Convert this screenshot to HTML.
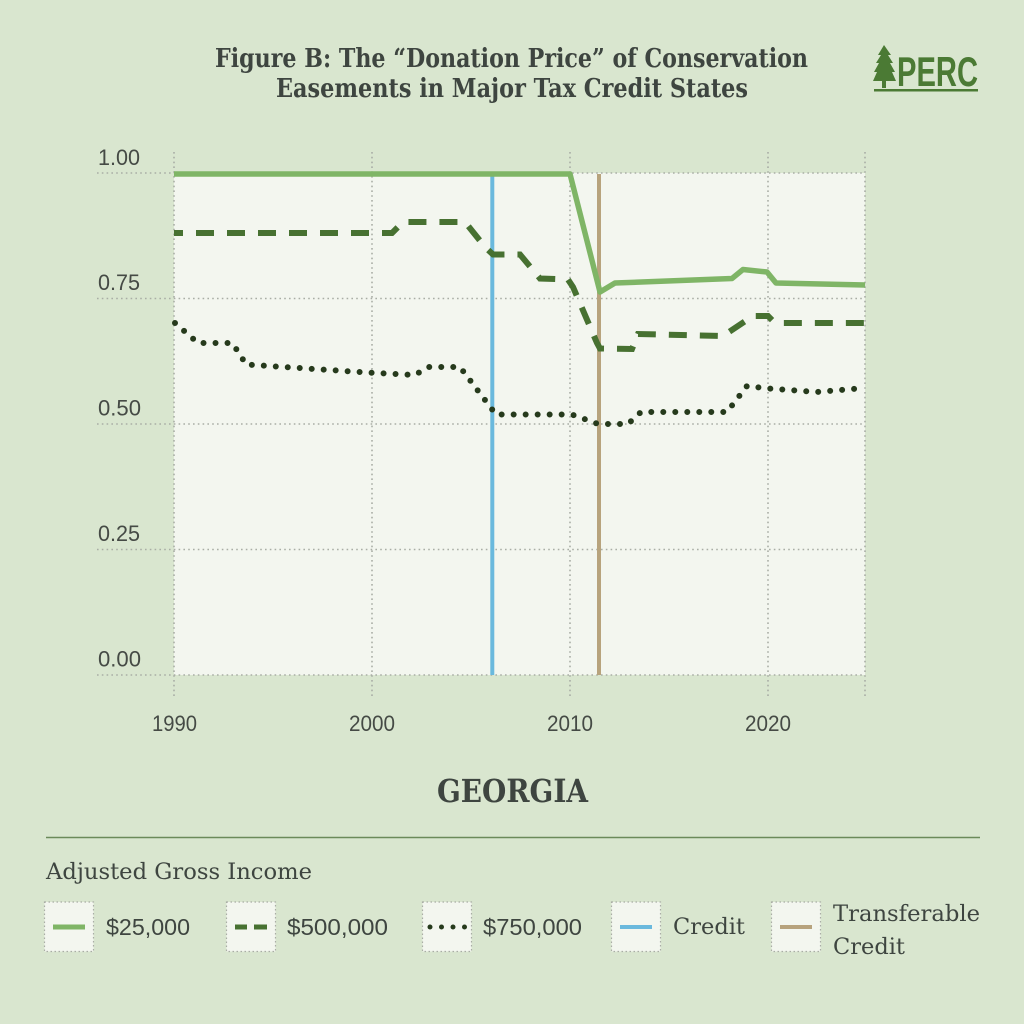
<!DOCTYPE html>
<html><head><meta charset="utf-8"><style>
html,body{margin:0;padding:0;background:#d9e6cf;}
svg{display:block;}
</style></head><body>
<svg width="1024" height="1024" viewBox="0 0 1024 1024" xmlns="http://www.w3.org/2000/svg">
<rect width="1024" height="1024" fill="#d9e6cf"/>
<!-- Title -->
<g font-family="'DejaVu Serif','Liberation Serif',serif" font-weight="bold" fill="#3e4540" font-size="26">
<text x="215" y="67" textLength="593" lengthAdjust="spacingAndGlyphs">Figure B: The “Donation Price” of Conservation</text>
<text x="276" y="97" textLength="472" lengthAdjust="spacingAndGlyphs">Easements in Major Tax Credit States</text>
</g>
<!-- Logo -->
<g fill="#4b7a34">
<polygon points="884,45 878,55 881,55 876,63 879,63 874,72 877,72 873,81 882,81 882,88 886,88 886,81 896,81 892,72 895,72 890,63 893,63 888,55 891,55"/>
<text x="897" y="86" font-family="'Liberation Sans',sans-serif" font-weight="bold" font-size="42" textLength="81" lengthAdjust="spacingAndGlyphs">PERC</text>
<rect x="874" y="89" width="104" height="2.5"/>
</g>
<!-- Plot bg -->
<rect x="174" y="173" width="691" height="502" fill="#f3f6ef"/>
<!-- Grid -->
<g stroke="#a9ada5" stroke-width="1.6" stroke-dasharray="1.6 3.2" fill="none">
<line x1="97" y1="173" x2="865" y2="173"/>
<line x1="97" y1="298.5" x2="865" y2="298.5"/>
<line x1="97" y1="424" x2="865" y2="424"/>
<line x1="97" y1="549.5" x2="865" y2="549.5"/>
<line x1="97" y1="675" x2="865" y2="675"/>
<line x1="174" y1="152" x2="174" y2="697"/>
<line x1="372" y1="152" x2="372" y2="697"/>
<line x1="570" y1="152" x2="570" y2="697"/>
<line x1="768" y1="152" x2="768" y2="697"/>
<line x1="865" y1="152" x2="865" y2="697"/>
</g>
<!-- Axis labels -->
<g font-family="'Liberation Sans',sans-serif" font-size="22.5" fill="#454a45">
<text x="98" y="165" textLength="42" lengthAdjust="spacingAndGlyphs">1.00</text>
<text x="98" y="290" textLength="42" lengthAdjust="spacingAndGlyphs">0.75</text>
<text x="98" y="415.5" textLength="43" lengthAdjust="spacingAndGlyphs">0.50</text>
<text x="98" y="541" textLength="42" lengthAdjust="spacingAndGlyphs">0.25</text>
<text x="98" y="666.5" textLength="43" lengthAdjust="spacingAndGlyphs">0.00</text>
<text x="152" y="731" textLength="45" lengthAdjust="spacingAndGlyphs">1990</text>
<text x="349" y="731" textLength="46" lengthAdjust="spacingAndGlyphs">2000</text>
<text x="547" y="731" textLength="46" lengthAdjust="spacingAndGlyphs">2010</text>
<text x="745" y="731" textLength="46" lengthAdjust="spacingAndGlyphs">2020</text>
</g>
<!-- Vertical markers -->
<line x1="492.3" y1="174" x2="492.3" y2="675" stroke="#6ab9dd" stroke-width="4"/>
<line x1="599" y1="174" x2="599" y2="675" stroke="#b7a37d" stroke-width="4"/>
<!-- Series -->
<path d="M174,174 L570,174 L600,292 L615,283 L732,278.5 L743,269.5 L767,272 L776,283 L865,285" fill="none" stroke="#7fb566" stroke-width="5.5" stroke-linejoin="round"/>
<path d="M174,233 L392,233 L403,222 L465,222 L485,247 L493,254.5 L520,254.5 L540,278.5 L568,279.5 L573,287 L597,343 L600,348.5 L632,349 L638,334 L723,336 L747,320 L753,316 L768,316 L775,323 L865,323" fill="none" stroke="#477131" stroke-width="6" stroke-dasharray="18 13" stroke-dashoffset="9"/>
<path d="M175,323 L198,343 L232,343 L239,353 L246,364.5 L367,372.5 L415,375 L428,367 L460,367 L496,414.5 L572,414.5 L598,424 L628,424 L641,412 L727,412 L747,386 L768,388.5 L817,392 L865,388" fill="none" stroke="#263a1c" stroke-width="6" stroke-linecap="round" stroke-dasharray="0 12"/>
<!-- GEORGIA -->
<text x="437" y="802" font-family="'DejaVu Serif','Liberation Serif',serif" font-weight="bold" font-size="32" fill="#3e4540" textLength="151" lengthAdjust="spacingAndGlyphs">GEORGIA</text>
<line x1="46" y1="837.5" x2="980" y2="837.5" stroke="#6b8a5a" stroke-width="1.5"/>
<text x="46" y="879" font-family="'DejaVu Serif','Liberation Serif',serif" font-size="22" fill="#3e4540" textLength="266" lengthAdjust="spacingAndGlyphs">Adjusted Gross Income</text>
<!-- Legend boxes -->
<g fill="#f3f6ef" stroke="#a9ada5" stroke-width="1.2" stroke-dasharray="1.5 2.5">
<rect x="44.5" y="902" width="49" height="49.5"/>
<rect x="226.5" y="902" width="49" height="49.5"/>
<rect x="422.5" y="902" width="49" height="49.5"/>
<rect x="611.5" y="902" width="49" height="49.5"/>
<rect x="771.5" y="902" width="49" height="49.5"/>
</g>
<line x1="53" y1="927" x2="85" y2="927" stroke="#7fb566" stroke-width="5"/>
<path d="M235,927 L247,927 M254,927 L267,927" stroke="#477131" stroke-width="5"/>
<g fill="#263a1c"><circle cx="430" cy="927" r="2.5"/><circle cx="441.5" cy="927" r="2.5"/><circle cx="453" cy="927" r="2.5"/><circle cx="464.5" cy="927" r="2.5"/></g>
<line x1="620" y1="927" x2="652" y2="927" stroke="#6ab9dd" stroke-width="4"/>
<line x1="780" y1="927" x2="812" y2="927" stroke="#b7a37d" stroke-width="4"/>
<g font-family="'Liberation Sans',sans-serif" font-size="23" fill="#3e4540">
<text x="106" y="935" textLength="84" lengthAdjust="spacingAndGlyphs">$25,000</text>
<text x="287" y="935" textLength="101" lengthAdjust="spacingAndGlyphs">$500,000</text>
<text x="483" y="935" textLength="99" lengthAdjust="spacingAndGlyphs">$750,000</text>
</g>
<g font-family="'DejaVu Serif','Liberation Serif',serif" font-size="22" fill="#3e4540">
<text x="673" y="934" textLength="72" lengthAdjust="spacingAndGlyphs">Credit</text>
<text x="833" y="921" textLength="147" lengthAdjust="spacingAndGlyphs">Transferable</text>
<text x="833" y="954" textLength="72" lengthAdjust="spacingAndGlyphs">Credit</text>
</g>
</svg>
</body></html>
